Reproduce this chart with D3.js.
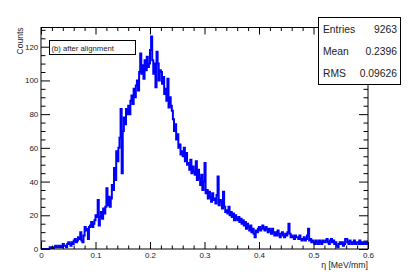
<!DOCTYPE html>
<html><head><meta charset="utf-8">
<script src="https://cdn.jsdelivr.net/npm/d3@7"></script>
<style>
html,body{margin:0;padding:0;background:#fff;}
svg{display:block;font-family:"Liberation Sans",Arial,Helvetica,sans-serif;}
</style></head>
<body>
<svg id="c" width="409" height="277"></svg>
<script>
// ---- data ----
const xRange = [0, 0.6];
const binWidth = 0.002;
const counts = [
 0,0,0,0,0,0,0,0,1,0, 1,0,1,2,1,1,2,1,2,1, 3,2,2,1,3,4,3,2,4,3,
 5,6,4,5,7, 6,10,5,4,8, 13,11,12,6,13, 14,16,13,15,17, 20,19,29,14,19, 22,18,24,21,25,
 36,26,31,25,30, 38,35,48,41,58, 52,60,66,83,45, 70,78,74,83,80, 85,80,88,91,86, 95,90,97,100,94,
 105,116,104,109,101, 112,106,114,108,110, 118,126,112,104,110, 96,117,110,100,106, 105,98,102,92,95, 88,101,84,90,85,
 82,77,70,74,65, 68,60,62,56,58, 55,60,52,57,50, 51,47,53,45,49, 46,44,52,41,47, 42,38,44,35,40,
 51,33,35,30,34, 31,28,33,29,30, 27,32,43,26,29, 28,24,34,25,22, 23,21,25,20,22, 19,21,17,20,18,
 17,19,16,18,15, 17,14,16,12,15, 13,11,14,10,12, 9,7,11,10,12, 13,11,12,14,12, 11,13,12,10,12,
 11,9,12,10,8, 10,8,11,9,7, 9,10,8,7,9, 8,10,15,9,7, 8,7,6,8,7, 7,6,8,6,5,
 6,7,5,6,8, 12,5,6,4,5, 4,3,5,4,3, 5,4,3,5,4, 4,5,6,4,3, 5,6,4,5,3,
 4,2,1,3,4, 3,4,2,3,6, 6,4,3,5,4, 3,4,5,3,4, 4,3,5,3,4, 3,4,3,4,3
];
const yMax = 131.4;
const xMajorTicks = [0, 0.1, 0.2, 0.3, 0.4, 0.5, 0.6];
const xTickLabels = ["0", "0.1", "0.2", "0.3", "0.4", "0.5", "0.6"];
const yMajorTicks = [0, 20, 40, 60, 80, 100, 120];
const yTickLabels = ["0", "20", "40", "60", "80", "100", "120"];
const statsLabels = ["Entries", "Mean", "RMS"];
const statsValues = ["9263", "0.2396", "0.09626"];
const legendText = "(b) after alignment";
const xTitle = "\u03B7 [MeV/mm]";
const yTitle = "Counts";

// ---- layout ----
const L = 41, R = 368, T = 27.5, B = 249;
const svg = d3.select("#c");
const x = d3.scaleLinear().domain(xRange).range([L, R]);
const y = d3.scaleLinear().domain([0, yMax]).range([B, T]);

const xMinor = d3.range(0, 31).map(i => i * 0.02).filter(v => Math.round(v * 100) % 10 !== 0);
const yMinor = d3.range(0, 27).map(i => i * 5).filter(v => v % 20 !== 0 && v <= yMax);

// histogram
const pts = counts.map((c, i) => [xRange[0] + i * binWidth, c]);
pts.push([xRange[0] + counts.length * binWidth, counts[counts.length - 1]]);
svg.append("defs").append("clipPath").attr("id", "clip")
  .append("rect").attr("x", L).attr("y", T).attr("width", R - L).attr("height", B - T);
svg.append("path")
  .attr("clip-path", "url(#clip)")
  .attr("d", d3.line().x(d => x(d[0])).y(d => y(d[1])).curve(d3.curveStepAfter)(pts))
  .attr("fill", "none").attr("stroke", "#0000ff").attr("stroke-width", 2)
  .attr("stroke-linejoin", "miter");

// axes
const axisStyle = g => { g.select(".domain").remove(); g.selectAll("line").attr("stroke", "#000"); };
const labelStyle = g => g.selectAll("text").attr("font-size", 8).attr("fill", "#222")
  .attr("font-family", "Liberation Sans, Arial, sans-serif");
svg.append("g").attr("transform", `translate(0,${B})`)
  .call(d3.axisBottom(x).tickValues(xMajorTicks).tickSize(-7).tickPadding(3.5)
    .tickFormat((d, i) => xTickLabels[i]))
  .call(axisStyle).call(labelStyle);
svg.append("g").attr("transform", `translate(0,${B})`)
  .call(d3.axisBottom(x).tickValues(xMinor).tickSize(-3.5).tickFormat(""))
  .call(axisStyle);
svg.append("g").attr("transform", `translate(0,${T})`)
  .call(d3.axisTop(x).tickValues(xMajorTicks).tickSize(-7).tickFormat(""))
  .call(axisStyle);
svg.append("g").attr("transform", `translate(0,${T})`)
  .call(d3.axisTop(x).tickValues(xMinor).tickSize(-3.5).tickFormat(""))
  .call(axisStyle);

svg.append("g").attr("transform", `translate(${L},0)`)
  .call(d3.axisLeft(y).tickValues(yMajorTicks).tickSize(-9).tickPadding(2.7)
    .tickFormat((d, i) => yTickLabels[i]))
  .call(axisStyle).call(labelStyle);
svg.append("g").attr("transform", `translate(${L},0)`)
  .call(d3.axisLeft(y).tickValues(yMinor).tickSize(-4.5).tickFormat(""))
  .call(axisStyle);
svg.append("g").attr("transform", `translate(${R},0)`)
  .call(d3.axisRight(y).tickValues(yMajorTicks).tickSize(-9).tickFormat(""))
  .call(axisStyle);
svg.append("g").attr("transform", `translate(${R},0)`)
  .call(d3.axisRight(y).tickValues(yMinor).tickSize(-4.5).tickFormat(""))
  .call(axisStyle);

// frame
svg.append("rect").attr("x", L).attr("y", T).attr("width", R - L).attr("height", B - T)
  .attr("fill", "none").attr("stroke", "#000").attr("stroke-width", 1);

// titles
svg.append("text").attr("x", R).attr("y", 267.5).attr("text-anchor", "end")
  .attr("font-size", 8.7).attr("fill", "#222").text(xTitle);
svg.append("text").attr("transform", `translate(22.5,${T}) rotate(-90)`).attr("text-anchor", "end")
  .attr("font-size", 8.5).attr("fill", "#222").text(yTitle);

// legend box
svg.append("rect").attr("x", 49.5).attr("y", 40.5).attr("width", 86).attr("height", 14)
  .attr("fill", "#fff").attr("stroke", "#000").attr("stroke-width", 1);
svg.append("text").attr("x", 51.5).attr("y", 50.5).attr("font-size", 7.7).attr("fill", "#222").text(legendText);

// stats box
const sb = {x: 318.5, y: 17.5, w: 82, h: 67};
svg.append("rect").attr("x", sb.x).attr("y", sb.y).attr("width", sb.w).attr("height", sb.h)
  .attr("fill", "#fff").attr("stroke", "#000").attr("stroke-width", 1);
const rowY = [29.5, 51.5, 73.5];
statsLabels.forEach((s, i) => {
  svg.append("text").attr("x", 323).attr("y", rowY[i]).attr("dy", "0.35em")
    .attr("font-size", 10.3).attr("fill", "#222").text(s);
  svg.append("text").attr("x", 397).attr("y", rowY[i]).attr("dy", "0.35em").attr("text-anchor", "end")
    .attr("font-size", 10.3).attr("fill", "#222").text(statsValues[i]);
});
</script>
</body></html>
